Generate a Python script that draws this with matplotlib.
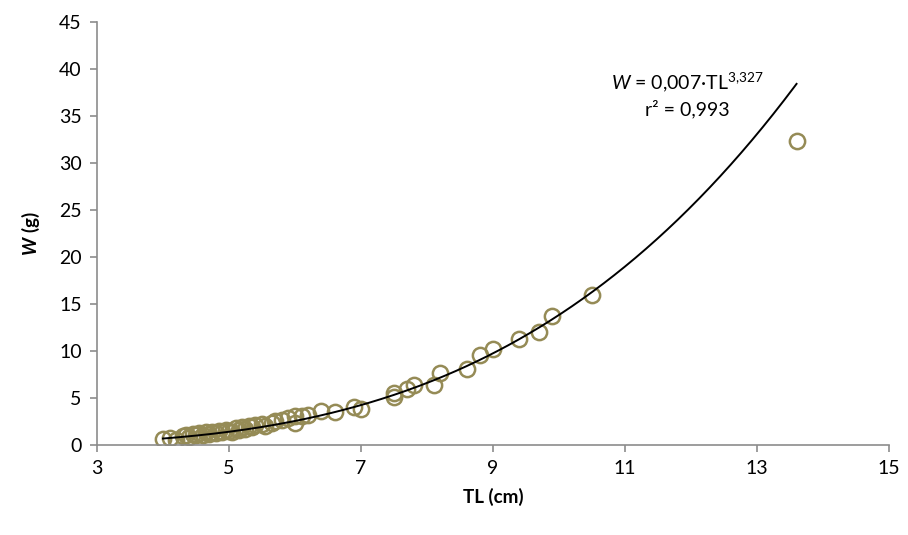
import numpy as np
import matplotlib.pyplot as plt

plt.rcParams['font.family'] = ['Lato', 'DejaVu Sans']
plt.rcParams['mathtext.fontset'] = 'custom'
plt.rcParams['mathtext.rm'] = 'Lato'
plt.rcParams['mathtext.it'] = 'Lato:italic'
plt.rcParams['mathtext.bf'] = 'Lato:bold'
plt.rcParams['mathtext.bfit'] = 'Lato:bold:italic'

# total length (cm) and weight (g)
tl = [4.0, 4.1, 4.2, 4.3, 4.35, 4.4, 4.45, 4.5, 4.55, 4.6, 4.65, 4.7, 4.75,
      4.8, 4.85, 4.9, 4.95, 5.0, 5.05, 5.1, 5.15, 5.2, 5.25, 5.3, 5.35, 5.4,
      5.5, 5.55, 5.65, 5.7, 5.8, 5.9, 6.0, 6.0, 6.1, 6.2, 6.4, 6.6, 6.9, 7.0,
      7.5, 7.5, 7.7, 7.8, 8.1, 8.2, 8.6, 8.8, 9.0, 9.4, 9.7, 9.9, 10.5, 13.6]
w = [0.65, 0.75, 0.45, 0.9, 1.0, 0.85, 1.1, 1.0, 1.2, 1.05, 1.3, 1.15, 1.4,
     1.25, 1.5, 1.35, 1.6, 1.45, 1.4, 1.8, 1.6, 1.9, 1.7, 2.0, 1.85, 2.1,
     2.2, 2.0, 2.3, 2.5, 2.6, 2.8, 2.3, 3.0, 3.1, 3.2, 3.6, 3.5, 4.0, 3.8,
     5.5, 5.1, 5.9, 6.3, 6.3, 7.6, 8.0, 9.5, 10.2, 11.2, 12.0, 13.7, 15.9, 32.3]

# power trendline W = a * TL^b
a_coef = 0.0065
b_exp = 3.327

fig = plt.figure(figsize=(9.08, 5.35), dpi=100)
ax = fig.add_axes([0.1068, 0.1688, 0.8722, 0.7906])

ax.plot(tl, w, 'o', markersize=11, markerfacecolor='none',
        markeredgecolor='#958B56', markeredgewidth=1.8, zorder=2)

xs = np.linspace(min(tl), max(tl), 300)
ax.plot(xs, a_coef * xs ** b_exp, color='black', lw=1.4, zorder=3)

ax.set_xlim(3, 15)
ax.set_ylim(0, 45)
ax.set_xticks(range(3, 16, 2))
ax.set_yticks(range(0, 46, 5))

for s in ['top', 'right']:
    ax.spines[s].set_visible(False)
for s in ['left', 'bottom']:
    ax.spines[s].set_color('#8C8C8C')
    ax.spines[s].set_linewidth(1.2)
ax.tick_params(length=5, width=1.2, color='#8C8C8C', labelsize=14, pad=6)

ax.set_xlabel('TL (cm)', fontsize=13.5, fontweight='bold', labelpad=8)
ax.set_ylabel(r'$\mathbfit{W}\ \mathbf{(g)}$', fontsize=13.5, labelpad=12)

ax.text(11.95, 38.6, r'$W$ = 0,007·TL$^{3{,}327}$', fontsize=14, ha='center', va='center')
ax.text(11.95, 35.7, 'r² = 0,993', fontsize=14, ha='center', va='center')

fig.savefig('out.png', dpi=100)
